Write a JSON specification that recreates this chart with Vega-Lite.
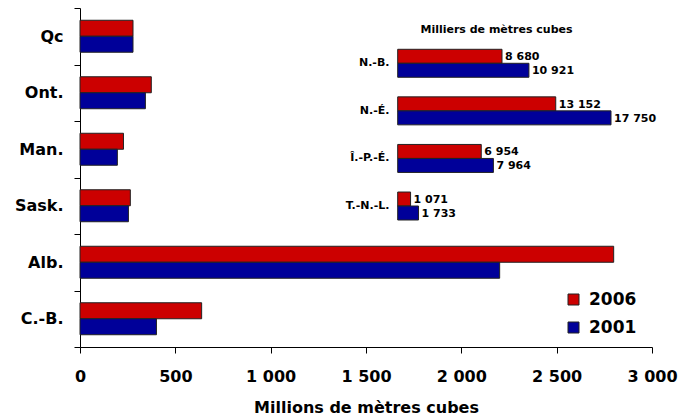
{
  "$schema": "https://vega.github.io/schema/vega-lite/v6.json",
  "width": 572,
  "height": 339,
  "autosize": {"type": "none"},
  "padding": {"left": 80, "top": 8, "right": 27, "bottom": 68},
  "background": "white",
  "config": {
    "locale": {"number": {"decimal": ",", "thousands": " ", "grouping": [3], "currency": ["", " $"]}},
    "view": {"stroke": null},
    "font": "DejaVu Sans",
    "axis": {"grid": false, "domainColor": "black", "tickColor": "black", "labelColor": "black", "titleColor": "black", "labelFont": "DejaVu Sans", "titleFont": "DejaVu Sans", "labelFontWeight": "bold", "titleFontWeight": "bold"}
  },
  "datasets": {
    "main": [
      {"region": "Qc", "year": "2006", "value": 278},
      {"region": "Qc", "year": "2001", "value": 278},
      {"region": "Ont.", "year": "2006", "value": 374},
      {"region": "Ont.", "year": "2001", "value": 343},
      {"region": "Man.", "year": "2006", "value": 228},
      {"region": "Man.", "year": "2001", "value": 196},
      {"region": "Sask.", "year": "2006", "value": 264},
      {"region": "Sask.", "year": "2001", "value": 254},
      {"region": "Alb.", "year": "2006", "value": 2799},
      {"region": "Alb.", "year": "2001", "value": 2201},
      {"region": "C.-B.", "year": "2006", "value": 638},
      {"region": "C.-B.", "year": "2001", "value": 401}
    ],
    "inset": [
      {"prov": "N.-B.", "year": "2006", "val": 8680},
      {"prov": "N.-B.", "year": "2001", "val": 10921},
      {"prov": "N.-É.", "year": "2006", "val": 13152},
      {"prov": "N.-É.", "year": "2001", "val": 17750},
      {"prov": "Î.-P.-É.", "year": "2006", "val": 6954},
      {"prov": "Î.-P.-É.", "year": "2001", "val": 7964},
      {"prov": "T.-N.-L.", "year": "2006", "val": 1071},
      {"prov": "T.-N.-L.", "year": "2001", "val": 1733}
    ]
  },
  "layer": [
    {
      "data": {"name": "main"},
      "mark": {"type": "bar", "stroke": "#222", "strokeWidth": 1},
      "encoding": {
        "x": {"field": "value", "type": "quantitative",
          "scale": {"domain": [0, 3000], "nice": false},
          "axis": {"orient": "bottom", "values": [0, 500, 1000, 1500, 2000, 2500, 3000], "format": ",.0f", "labelFlush": false, "tickSize": 6, "labelFontSize": 16, "labelPadding": 15, "title": "Millions de mètres cubes", "titleFontSize": 16, "titlePadding": 15}},
        "y": {"field": "region", "type": "nominal", "sort": ["Qc", "Ont.", "Man.", "Sask.", "Alb.", "C.-B."],
          "scale": {"paddingInner": 0, "paddingOuter": 0},
          "axis": {"orient": "left", "title": null, "tickBand": "extent", "tickSize": 6, "labelFontSize": 16, "labelPadding": 11}},
        "yOffset": {"field": "year", "type": "nominal", "sort": ["2006", "2001"], "scale": {"paddingInner": 0, "paddingOuter": 0.766}},
        "color": {"field": "year", "type": "nominal",
          "scale": {"domain": ["2006", "2001"], "range": ["#CC0000", "#000099"]},
          "legend": {"orient": "none", "legendX": 485, "legendY": 283, "title": null, "symbolType": "square", "symbolSize": 121, "symbolStrokeColor": "#222", "symbolStrokeWidth": 1, "labelFontSize": 17, "labelFontWeight": "bold", "labelFont": "DejaVu Sans", "labelColor": "black", "rowPadding": 10, "labelOffset": 7}}
      }
    },
    {
      "data": {"name": "inset"},
      "encoding": {
        "x": {"field": "val", "type": "quantitative",
          "scale": {"domain": [0, 17750], "range": [317.7, 531], "nice": false},
          "axis": {"orient": "top", "domain": false, "ticks": false, "labels": false, "title": "Milliers de mètres cubes", "titleFontSize": 11, "offset": -24, "titlePadding": 0, "titleX": 416, "titleY": 0, "titleBaseline": "alphabetic"}},
        "y": {"field": "prov", "type": "nominal", "sort": ["N.-B.", "N.-É.", "Î.-P.-É.", "T.-N.-L."],
          "scale": {"range": [31.5, 221.8], "paddingInner": 0, "paddingOuter": 0},
          "axis": {"orient": "left", "offset": -318, "domain": false, "ticks": false, "title": null, "labelFontSize": 11, "labelPadding": 9}},
        "yOffset": {"field": "year", "type": "nominal", "sort": ["2006", "2001"], "scale": {"paddingInner": 0, "paddingOuter": 0.7}}
      },
      "layer": [
        {"mark": {"type": "bar", "stroke": "#222", "strokeWidth": 1},
         "encoding": {"color": {"field": "year", "type": "nominal"}}},
        {"mark": {"type": "text", "align": "left", "baseline": "middle", "dx": 3, "dy": 1, "fontSize": 11, "fontWeight": "bold", "font": "DejaVu Sans", "color": "black"},
         "encoding": {"text": {"field": "val", "type": "quantitative", "format": ",.0f"}}}
      ]
    }
  ],
  "resolve": {"scale": {"x": "independent", "y": "independent", "yOffset": "independent"}, "axis": {"x": "independent", "y": "independent"}}
}
